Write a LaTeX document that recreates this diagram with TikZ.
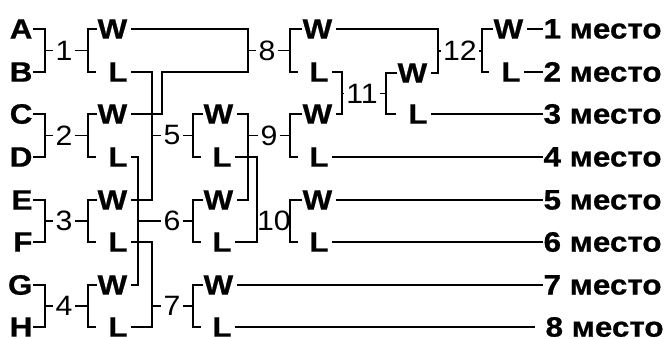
\documentclass[tikz,border=0pt]{standalone}
\usepackage{fontspec}
\setmainfont{Liberation Sans}[UprightFeatures={FakeStretch=1.08},BoldFeatures={FakeBold=0.8,FakeStretch=1.12}]
\begin{document}
\begin{tikzpicture}[x=1pt,y=-1pt,line width=1.2pt,
  lt/.style={font=\fontsize{28}{30}\selectfont\bfseries, inner sep=0pt},
  num/.style={font=\fontsize{28}{30}\selectfont, inner sep=1.5pt},
  wl/.style={font=\fontsize{28}{30}\selectfont\bfseries, inner sep=0pt},
  plc/.style={font=\fontsize{28}{30}\selectfont\bfseries, inner sep=0pt, anchor=west},
  gap/.style={shorten <=3pt, shorten >=3pt}]
\useasboundingbox (0,0) rectangle (665,338);
% players
\node[lt,anchor=east] (A) at (33,29) {A};
\node[lt,anchor=east] (B) at (33,72) {B};
\node[lt,anchor=east] (C) at (33,114) {C};
\node[lt,anchor=east] (D) at (33,157) {D};
\node[lt,anchor=east] (E) at (33,200) {E};
\node[lt,anchor=east] (F) at (33,242) {F};
\node[lt,anchor=east] (G) at (33,285) {G};
\node[lt,anchor=east] (H) at (33,327) {H};
% round 1
\node[num] (m1) at (64,50.5) {1};
\node[num] (m2) at (64,135.5) {2};
\node[num] (m3) at (64,221) {3};
\node[num] (m4) at (64,306) {4};
\node[wl,anchor=west] (W1) at (97,29) {W};
\node[wl] (L1) at (118,72) {L};
\node[wl,anchor=west] (W2) at (97,114) {W};
\node[wl] (L2) at (118,157) {L};
\node[wl,anchor=west] (W3) at (97,200) {W};
\node[wl] (L3) at (118,242) {L};
\node[wl,anchor=west] (W4) at (97,285) {W};
\node[wl] (L4) at (118,327) {L};
\draw (A.east) -| (45,50.5) |- (B.east);
\draw (C.east) -| (45,135.5) |- (D.east);
\draw (E.east) -| (45,221) |- (F.east);
\draw (G.east) -| (45,306) |- (H.east);
\draw (45,50.5) -- (m1);
\draw (45,135.5) -- (m2);
\draw (45,221) -- (m3);
\draw (45,306) -- (m4);
\draw (m1) -- (88,50.5);
\draw (m2) -- (88,135.5);
\draw (m3) -- (88,221);
\draw (m4) -- (88,306);
\draw[shorten >=12pt] (W1.west) -| (88,72) -- (L1.west);
\draw[shorten >=12pt] (W2.west) -| (88,157) -- (L2.west);
\draw[shorten >=12pt] (W3.west) -| (88,242) -- (L3.west);
\draw[shorten >=12pt] (W4.west) -| (88,327) -- (L4.west);
% round 2
\node[num] (m5) at (172,135.5) {5};
\node[num] (m6) at (172,221) {6};
\node[num] (m7) at (172,306) {7};
\node[wl,anchor=west] (W5) at (203,114) {W};
\node[wl] (L5) at (222,157) {L};
\node[wl,anchor=west] (W6) at (203,200) {W};
\node[wl] (L6) at (222,242) {L};
\node[wl,anchor=west] (W7) at (203,285) {W};
\node[wl] (L7) at (222,327) {L};
\draw[gap] (L1.east) -- (152,72) -- (152,200) -- (W3.east);
\draw (152,135.5) -- (m5);
\draw[gap] (L2.east) -- (138,157) -- (138,285) -- (W4.east);
\draw (138,221) -- (m6);
\draw[gap] (L3.east) -- (152,242) -- (152,327) -- (L4.east);
\draw (152,306) -- (m7);
\draw (m5) -- (193,135.5);
\draw (m6) -- (193,221);
\draw (m7) -- (193,306);
\draw[shorten >=11pt] (W5.west) -| (193,157) -- (L5.west);
\draw[shorten >=11pt] (W6.west) -| (193,242) -- (L6.west);
\draw[shorten >=11pt] (W7.west) -| (193,327) -- (L7.west);
% round 3
\node[num] (m8) at (267,50.5) {8};
\node[num] (m9) at (269,135.5) {9};
\node[num,inner sep=0pt] (m10) at (274,221) {10};
\node[wl,anchor=west] (W8) at (302,29) {W};
\node[wl] (L8) at (319,72) {L};
\node[wl,anchor=west] (W9) at (302,114) {W};
\node[wl] (L9) at (319,157) {L};
\node[wl,anchor=west] (W10) at (302,200) {W};
\node[wl] (L10) at (319,242) {L};
\draw[gap] (W1.east) -- (248,29) -- (248,72) -- (162,72) -- (162,114) -- (W2.east);
\draw (248,50.5) -- (m8);
\draw[gap] (W5.east) -- (248,114) -- (248,200) -- (W6.east);
\draw (248,135.5) -- (m9);
\draw[gap] (L5.east) -- (257,157) -- (257,242) -- (L6.east);
\draw (257,221) -- (m10.west);
\draw (m8) -- (290,50.5);
\draw (m9) -- (290,135.5);
\draw (m10.east) -- (290,221);
\draw[shorten >=11pt] (W8.west) -| (290,72) -- (L8.west);
\draw[shorten >=11pt] (W9.west) -| (290,157) -- (L9.west);
\draw[shorten >=11pt] (W10.west) -| (290,242) -- (L10.west);
% round 4
\node[num] (m11) at (362,93.5) {11};
\node[wl,anchor=west] (W11) at (397,73) {W};
\node[wl] (L11) at (418,114) {L};
\draw[gap] (L8.east) -- (342,72) -- (342,114) -- (W9.east);
\draw (342,93.5) -- (m11);
\draw (m11) -- (386,93.5);
\draw[shorten >=12pt] (W11.west) -| (386,114) -- (L11.west);
% final
\node[num] (m12) at (460,51) {12};
\node[wl,anchor=west] (W12) at (493,29) {W};
\node[wl] (L12) at (511,72) {L};
\draw[gap] (W8.east) -- (438,29) -- (438,73) -- (W11.east);
\draw (438,51) -- (m12);
\draw (m12) -- (482,51);
\draw[shorten >=12pt] (W12.west) -| (482,72) -- (L12.west);
% places
\node[plc] (p1) at (543,29) {1 место};
\node[plc] (p2) at (543,72) {2 место};
\node[plc] (p3) at (543,114) {3 место};
\node[plc] (p4) at (543,157) {4 место};
\node[plc] (p5) at (543,200) {5 место};
\node[plc] (p6) at (543,242) {6 место};
\node[plc] (p7) at (543,285) {7 место};
\node[plc] (p8) at (545,327) {8 место};
\draw[shorten <=3pt] (W12.east) -- (p1.west);
\draw[shorten <=3pt] (L12.east) -- (p2.west);
\draw[shorten <=3pt] (L11.east) -- (p3.west);
\draw[shorten <=3pt] (L9.east) -- (p4.west);
\draw[shorten <=3pt] (W10.east) -- (p5.west);
\draw[shorten <=3pt] (L10.east) -- (p6.west);
\draw[shorten <=3pt] (W7.east) -- (p7.west);
\draw[shorten <=3pt, shorten >=10pt] (L7.east) -- (p8.west);
\end{tikzpicture}
\end{document}
